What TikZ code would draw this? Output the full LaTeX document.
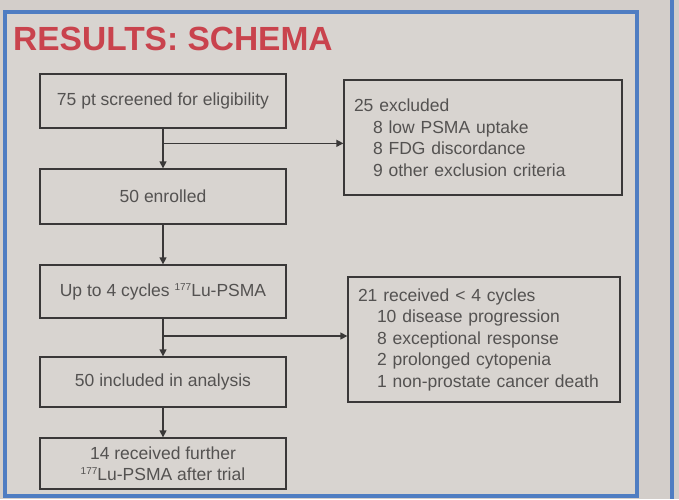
\documentclass[tikz,border=0pt]{standalone}
\usepackage{fontspec}
\setmainfont{Liberation Sans}
\usetikzlibrary{arrows.meta,calc}
\definecolor{bg}{HTML}{D3CECA}
\definecolor{panel}{HTML}{D8D4D0}
\definecolor{frameblue}{HTML}{4F7DC2}
\definecolor{titlered}{HTML}{C9434D}
\definecolor{ink}{HTML}{545251}
\definecolor{edge}{HTML}{3A3838}
\newcommand{\isoup}[1]{\raisebox{6pt}{\fontsize{10}{10}\selectfont #1}}
\begin{document}
\begin{tikzpicture}[x=1pt,y=-1pt,
  box/.style={draw=edge,line width=1.3pt,rectangle,inner sep=0pt,text=ink,
    font=\fontsize{17.5}{21}\selectfont,align=center,minimum width=246pt},
  sidebox/.style={draw=edge,line width=1.3pt,rectangle,inner xsep=10pt,inner ysep=0pt,text=ink,
    font=\fontsize{17.5}{21.5}\selectfont,align=left},
  arr/.style={draw=edge,line width=1.3pt,-{Triangle[length=7pt,width=7pt]}},
  frame/.style={draw=frameblue,line width=3.5pt}
]
\useasboundingbox (0,0) rectangle (679,499);
\fill[bg] (0,0) rectangle (679,499);
\fill[panel] (5,12) rectangle (637,496);
\draw[frame] (5,12) rectangle (637,496);
\draw[frame] (672,0) -- (672,499);

\node[anchor=base west,inner sep=0pt,text=titlered,font=\fontsize{33.5}{40}\selectfont\bfseries] (title) at (13,50) {RESULTS: SCHEMA};

\node[box,minimum height=54pt] (b1) at (163,101) {75 pt screened for eligibility};
\node[box,minimum height=55pt] (b2) at (163,196.5) {50 enrolled};
\node[box,minimum height=53pt] (b3) at (163,291.5) {Up to 4 cycles \isoup{177}Lu-PSMA};
\node[box,minimum height=50pt] (b4) at (163,382) {50 included in analysis};
\node[box,minimum height=51pt,font=\fontsize{17.5}{20.5}\selectfont] (b5) at (163,463.5) {14 received further\\\isoup{177}Lu-PSMA after trial};

\node[sidebox,minimum width=278pt,minimum height=115pt,text width=258pt] (ex) at (483,137.5)
  {25 excluded\\
   \hspace*{19pt}8 low PSMA uptake\\
   \hspace*{19pt}8 FDG discordance\\
   \hspace*{19pt}9 other exclusion criteria};
\node[sidebox,minimum width=272pt,minimum height=125pt,text width=252pt] (rc) at (484,339.5)
  {21 received < 4 cycles\\
   \hspace*{19pt}10 disease progression\\
   \hspace*{19pt}8 exceptional response\\
   \hspace*{19pt}2 prolonged cytopenia\\
   \hspace*{19pt}1 non-prostate cancer death};

\path (b1.south) -- (b2.north) coordinate[pos=0.37] (j1);
\path (b3.south) -- (b4.north) coordinate[pos=0.46] (j2);

\draw[arr] (b1) -- (b2);
\draw[arr] (j1) -- (j1 -| ex.west);
\draw[arr] (b2) -- (b3);
\draw[arr] (b3) -- (b4);
\draw[arr] (j2) -- (j2 -| rc.west);
\draw[arr] (b4) -- (b5);
\end{tikzpicture}
\end{document}
